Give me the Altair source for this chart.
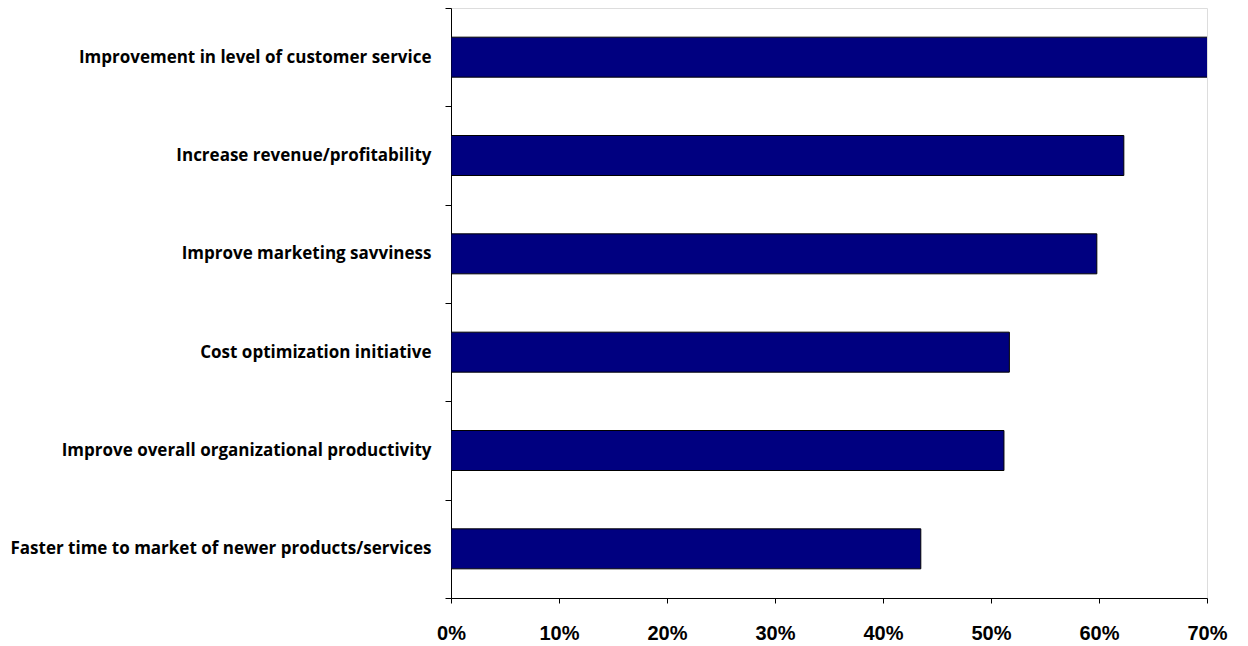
import altair as alt
import pandas as pd

categories = [
    "Improvement in level of customer service",
    "Increase revenue/profitability",
    "Improve marketing savviness",
    "Cost optimization initiative",
    "Improve overall organizational  productivity",
    "Faster time to market of newer products/services",
]
values = [0.702, 0.623, 0.598, 0.517, 0.512, 0.435]
tick_values = [0, 0.1, 0.2, 0.3, 0.4, 0.5, 0.6, 0.7]

df = pd.DataFrame({"category": categories, "value": values})

chart = (
    alt.Chart(df)
    .mark_bar(size=40, fill="#000080", stroke="black", strokeWidth=1, clip=True)
    .encode(
        x=alt.X(
            "value:Q",
            scale=alt.Scale(domain=[0, 0.7], nice=False, zero=True),
            axis=alt.Axis(
                values=tick_values,
                format=".0%",
                grid=False,
                title=None,
                domainColor="black",
                tickColor="black",
                tickSize=5,
                labelPadding=20,
                labelFlush=False,
                labelOverlap=False,
                labelFont="Liberation Sans",
                labelFontWeight="bold",
                labelFontSize=20,
                labelColor="black",
            ),
        ),
        y=alt.Y(
            "category:N",
            sort=categories,
            scale=alt.Scale(paddingInner=0, paddingOuter=0),
            axis=alt.Axis(
                title=None,
                tickBand="extent",
                domainColor="black",
                tickColor="black",
                tickSize=6,
                labelPadding=14,
                labelFont="Open Sans",
                labelFontWeight="bold",
                labelFontSize=17,
                labelColor="black",
                labelLimit=500,
            ),
        ),
    )
    .properties(
        width=756,
        height=590,
        autosize="none",
        padding={"left": 451, "top": 8, "right": 41, "bottom": 48},
    )
    .configure_view(stroke="black", strokeWidth=1)
    .configure(background="white")
)

chart.save("out.html", embed_options={"renderer": "svg", "actions": False})
